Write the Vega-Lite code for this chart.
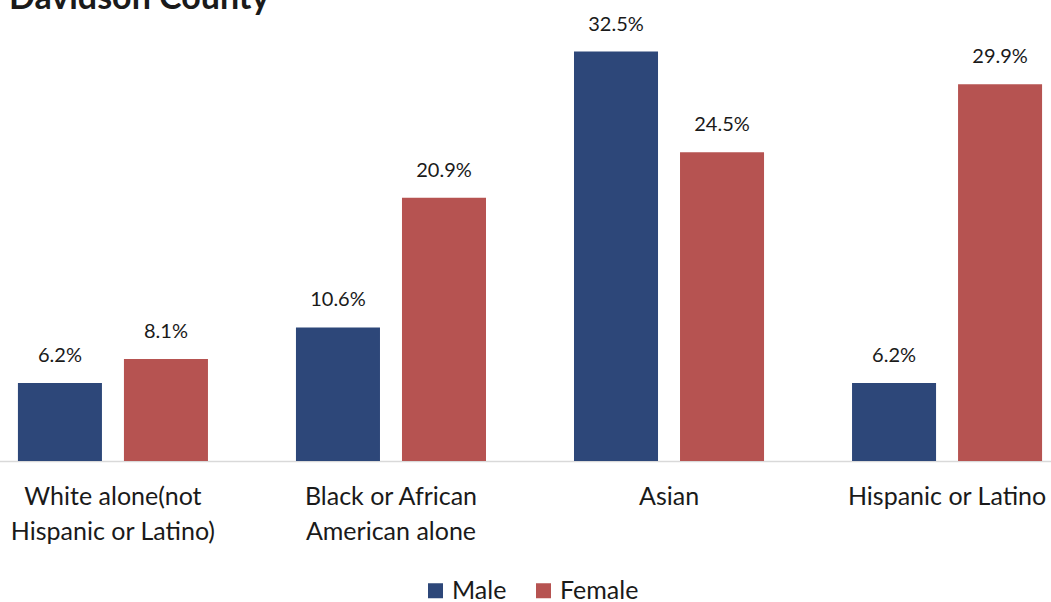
{
  "$schema": "https://vega.github.io/schema/vega-lite/v6.json",
  "width": 1051,
  "height": 441,
  "autosize": {"type": "none"},
  "padding": {"left": 0, "top": 20, "right": 0, "bottom": 141},
  "background": "white",
  "title": {
    "text": "Davidson County",
    "anchor": "start",
    "font": "Lato",
    "fontSize": 34,
    "fontWeight": "bold",
    "color": "#1a1a1a",
    "dx": 9,
    "offset": -1
  },
  "data": {
    "values": [
      {"group": "White alone(not Hispanic or Latino)", "sex": "Male", "value": 0.062},
      {"group": "White alone(not Hispanic or Latino)", "sex": "Female", "value": 0.081},
      {"group": "Black or African American alone", "sex": "Male", "value": 0.106},
      {"group": "Black or African American alone", "sex": "Female", "value": 0.209},
      {"group": "Asian", "sex": "Male", "value": 0.325},
      {"group": "Asian", "sex": "Female", "value": 0.245},
      {"group": "Hispanic or Latino", "sex": "Male", "value": 0.062},
      {"group": "Hispanic or Latino", "sex": "Female", "value": 0.299}
    ]
  },
  "encoding": {
    "x": {
      "field": "group",
      "type": "nominal",
      "sort": ["White alone(not Hispanic or Latino)", "Black or African American alone", "Asian", "Hispanic or Latino"],
      "scale": {"range": [-26, 1086], "paddingInner": 0.3165, "paddingOuter": 0.158},
      "axis": {
        "title": null,
        "ticks": false,
        "domainColor": "#d9d9d9",
        "domainWidth": 1.5,
        "labelAngle": 0,
        "labelFont": "Lato",
        "labelFontSize": 25,
        "labelColor": "#1a1a1a",
        "labelLineHeight": 35,
        "labelPadding": 23,
        "labelBaseline": "top",
        "labelOverlap": false,
        "labelBound": false,
        "labelLimit": 0,
        "labelExpr": "datum.value == 'White alone(not Hispanic or Latino)' ? ['White alone(not', 'Hispanic or Latino)'] : datum.value == 'Black or African American alone' ? ['Black or African', 'American alone'] : datum.value"
      }
    },
    "xOffset": {
      "field": "sex",
      "type": "nominal",
      "sort": ["Male", "Female"],
      "scale": {"paddingInner": 0.2075, "paddingOuter": 0}
    },
    "y": {
      "field": "value",
      "type": "quantitative",
      "scale": {"domain": [0, 0.35], "nice": false},
      "axis": null
    }
  },
  "layer": [
    {
      "mark": {"type": "bar"},
      "encoding": {
        "color": {
          "field": "sex",
          "type": "nominal",
          "scale": {"domain": ["Male", "Female"], "range": ["#2d4779", "#b65351"]},
          "legend": {
            "title": null,
            "orient": "none",
            "direction": "horizontal",
            "legendX": 423,
            "legendY": 558,
            "symbolType": "square",
            "symbolSize": 225,
            "symbolStrokeWidth": 0,
            "symbolOpacity": 1,
            "labelFont": "Lato",
            "labelFontSize": 25,
            "labelColor": "#1a1a1a",
            "labelOffset": 4,
            "columnPadding": 24
          }
        }
      }
    },
    {
      "mark": {"type": "text", "baseline": "bottom", "dy": -17, "font": "Lato", "fontSize": 20, "color": "#1a1a1a"},
      "encoding": {
        "text": {"field": "value", "type": "quantitative", "format": ".1%"}
      }
    }
  ],
  "config": {"view": {"stroke": null}}
}
